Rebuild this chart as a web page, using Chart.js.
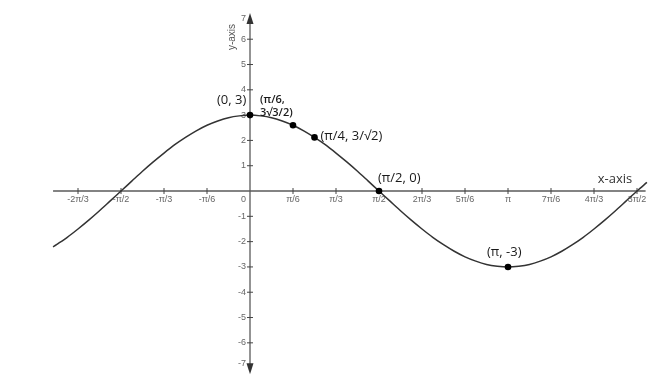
<!DOCTYPE html>
<html>
<head>
<meta charset="utf-8">
<script src="https://cdn.jsdelivr.net/npm/chart.js@4"></script>
<style>
  html, body { margin: 0; padding: 0; background: #ffffff; }
  #wrap { width: 669px; height: 378px; }
</style>
</head>
<body>
<div id="wrap"><canvas id="c" width="669" height="378"></canvas></div>
<script>
// x values are in units of π/6
const curveX = [-4.58, -4.5, -4.25, -4, -3.75, -3.5, -3.25, -3, -2.75, -2.5, -2.25, -2, -1.75, -1.5, -1.25, -1, -0.75, -0.5, -0.25, 0, 0.25, 0.5, 0.75, 1, 1.25, 1.5, 1.75, 2, 2.25, 2.5, 2.75, 3, 3.25, 3.5, 3.75, 4, 4.25, 4.5, 4.75, 5, 5.25, 5.5, 5.75, 6, 6.25, 6.5, 6.75, 7, 7.25, 7.5, 7.75, 8, 8.25, 8.5, 8.75, 9, 9.23];
const curveY = [-2.21, -2.12, -1.83, -1.5, -1.15, -0.78, -0.39, 0, 0.39, 0.78, 1.15, 1.5, 1.83, 2.12, 2.38, 2.6, 2.77, 2.9, 2.97, 3, 2.97, 2.9, 2.77, 2.6, 2.38, 2.12, 1.83, 1.5, 1.15, 0.78, 0.39, 0, -0.39, -0.78, -1.15, -1.5, -1.83, -2.12, -2.38, -2.6, -2.77, -2.9, -2.97, -3, -2.97, -2.9, -2.77, -2.6, -2.38, -2.12, -1.83, -1.5, -1.15, -0.78, -0.39, 0, 0.34];

const pointX = [0, 1, 1.5, 3, 6];
const pointY = [3, 2.6, 2.12, 0, -3];

const xTickValues = [-4, -3, -2, -1, 0, 1, 2, 3, 4, 5, 6, 7, 8, 9];
const xTickLabels = ['-2π/3', '-π/2', '-π/3', '-π/6', '0', 'π/6', 'π/3', 'π/2', '2π/3', '5π/6', 'π', '7π/6', '4π/3', '3π/2'];
const yTickValues = [-7, -6, -5, -4, -3, -2, -1, 1, 2, 3, 4, 5, 6, 7];

const annotationTexts = ['(0, 3)', '(π/6,', '3√3/2)', '(π/4, 3/√2)', '(π/2, 0)', '(π, -3)'];

const axesPlugin = {
  id: 'axesPlugin',
  beforeDatasetsDraw(chart) {
    const ctx = chart.ctx;
    const xs = chart.scales.x, ys = chart.scales.y;
    const x0 = xs.getPixelForValue(0), y0 = ys.getPixelForValue(0);
    ctx.save();
    ctx.strokeStyle = '#5a5a5a';
    ctx.fillStyle = '#333';
    ctx.lineWidth = 1.3;
    // x axis
    ctx.beginPath();
    ctx.moveTo(xs.getPixelForValue(-4.58), y0);
    ctx.lineTo(xs.getPixelForValue(9.2), y0);
    ctx.stroke();
    // y axis
    const yTop = ys.getPixelForValue(7.0), yBot = ys.getPixelForValue(-7.2);
    ctx.beginPath();
    ctx.moveTo(x0, yTop + 4);
    ctx.lineTo(x0, yBot - 4);
    ctx.stroke();
    // arrows
    ctx.beginPath();
    ctx.moveTo(x0, yTop - 1);
    ctx.lineTo(x0 - 3.5, yTop + 10);
    ctx.lineTo(x0 + 3.5, yTop + 10);
    ctx.closePath();
    ctx.fill();
    ctx.beginPath();
    ctx.moveTo(x0, yBot + 1);
    ctx.lineTo(x0 - 3.5, yBot - 10);
    ctx.lineTo(x0 + 3.5, yBot - 10);
    ctx.closePath();
    ctx.fill();

    // ticks + labels
    ctx.lineWidth = 1;
    ctx.strokeStyle = '#444';
    ctx.font = '9px "Liberation Sans", Arial, sans-serif';
    ctx.fillStyle = '#666';
    ctx.textBaseline = 'middle';
    xTickValues.forEach((v, i) => {
      const px = xs.getPixelForValue(v);
      if (v !== 0) {
        ctx.beginPath();
        ctx.moveTo(px, y0 - 3);
        ctx.lineTo(px, y0 + 3);
        ctx.stroke();
        ctx.textAlign = 'center';
        ctx.fillText(xTickLabels[i], px, y0 + 8);
      } else {
        ctx.textAlign = 'right';
        ctx.fillText(xTickLabels[i], px - 4, y0 + 8);
      }
    });
    yTickValues.forEach((v) => {
      const py = ys.getPixelForValue(v);
      if (Math.abs(v) < 7) {
        ctx.beginPath();
        ctx.moveTo(x0 - 3, py);
        ctx.lineTo(x0 + 3, py);
        ctx.stroke();
      }
      let ly = py;
      if (v === 7) ly = py + 5;
      if (v === -7) ly = py - 5;
      ctx.textAlign = 'right';
      ctx.fillText(String(v), x0 - 4, ly);
    });

    // axis titles
    ctx.fillStyle = '#333';
    ctx.font = '13px "Open Sans", sans-serif';
    ctx.textAlign = 'center';
    ctx.fillText('x-axis', 615, y0 - 12);
    ctx.save();
    ctx.translate(x0 - 18, 37);
    ctx.rotate(-Math.PI / 2);
    ctx.font = '10px "Liberation Sans", Arial, sans-serif';
    ctx.fillStyle = '#555';
    ctx.fillText('y-axis', 0, 0);
    ctx.restore();
    ctx.restore();
  },
  afterDatasetsDraw(chart) {
    const ctx = chart.ctx;
    const xs = chart.scales.x, ys = chart.scales.y;
    const px = (v) => xs.getPixelForValue(v), py = (v) => ys.getPixelForValue(v);
    ctx.save();
    ctx.fillStyle = '#1a1a1a';
    ctx.textBaseline = 'middle';
    ctx.textAlign = 'left';
    ctx.font = '13px "Open Sans", sans-serif';
    ctx.fillText(annotationTexts[0], px(pointX[0]) - 33, py(pointY[0]) - 15);
    ctx.font = '600 11px "Open Sans", sans-serif';
    ctx.fillText(annotationTexts[1], px(pointX[0]) + 10, py(pointY[0]) - 15);
    ctx.fillText(annotationTexts[2], px(pointX[0]) + 10, py(pointY[0]) - 2);
    ctx.font = '13px "Open Sans", sans-serif';
    ctx.fillText(annotationTexts[3], px(pointX[2]) + 6, py(pointY[2]) - 1);
    ctx.fillText(annotationTexts[4], px(pointX[3]) - 1, py(pointY[3]) - 13);
    ctx.fillText(annotationTexts[5], px(pointX[4]) - 21, py(pointY[4]) - 15);
    ctx.restore();
  }
};

new Chart(document.getElementById('c'), {
  type: 'scatter',
  data: {
    datasets: [
      {
        data: pointX.map((x, i) => ({ x, y: pointY[i] })),
        showLine: false,
        pointRadius: 3.3,
        pointBackgroundColor: '#000',
        pointBorderColor: '#000',
        borderWidth: 0,
        order: 0
      },
      {
        data: curveX.map((x, i) => ({ x, y: curveY[i] })),
        showLine: true,
        borderColor: '#333333',
        borderWidth: 1.5,
        pointRadius: 0,
        tension: 0.3,
        fill: false,
        order: 1
      }
    ]
  },
  options: {
    responsive: false,
    animation: false,
    devicePixelRatio: 1,
    layout: { padding: 0, autoPadding: false },
    plugins: { legend: { display: false }, tooltip: { enabled: false } },
    scales: {
      x: { type: 'linear', min: -5.814, max: 9.744, display: false },
      y: { type: 'linear', min: -7.39, max: 7.55, display: false }
    }
  },
  plugins: [axesPlugin]
});
</script>
</body>
</html>
